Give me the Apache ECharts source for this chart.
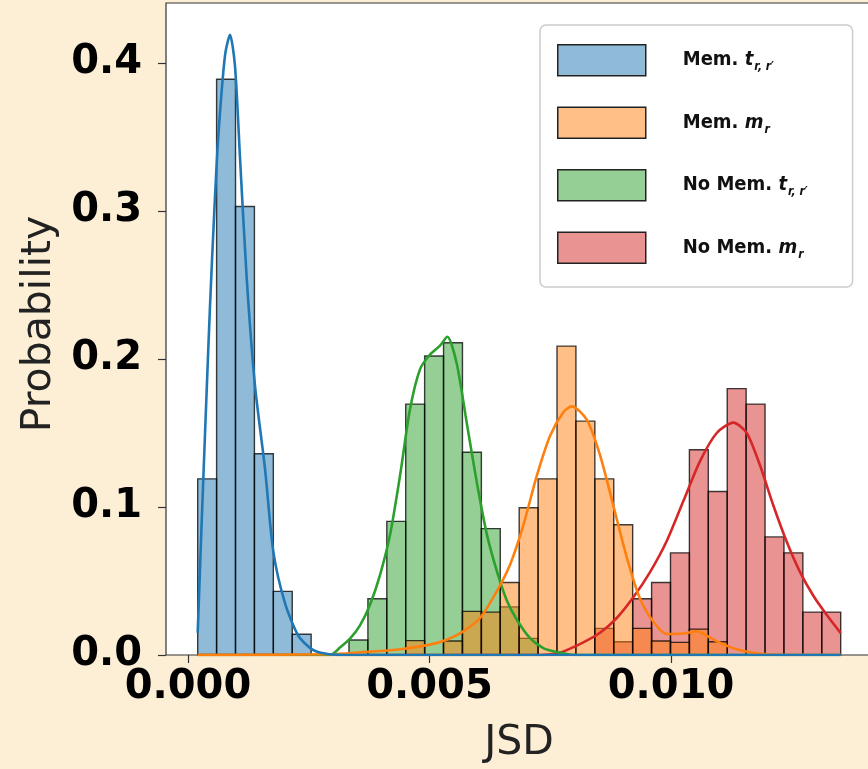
<!DOCTYPE html>
<html>
<head>
<meta charset="utf-8">
<title>JSD histogram</title>
<script src="https://cdn.jsdelivr.net/npm/echarts@6/dist/echarts.min.js"></script>
<style>
  html, body { margin: 0; padding: 0; background: #fdefd6; overflow: hidden; }
  #main { width: 880px; height: 769px; }
</style>
</head>
<body>
<div id="main"></div>
<script>
// common histogram bins (34 bins, JSD)
var binStart = 0.000201;
var binWidth = 0.0003915;
var binCount = 34;

// probability per bin, one array per group
var memT   = [0.119,0.389,0.303,0.136,0.043,0.014,0,0,0,0,0,0,0,0,0,0,0,0,0,0,0,0,0,0,0,0,0,0,0,0,0,0,0,0];
var memM   = [0,0,0,0,0,0,0,0,0,0,0,0.0097,0,0.0095,0.0295,0.029,0.049,0.0995,0.119,0.2087,0.158,0.119,0.088,0.018,0.0095,0.0085,0.0175,0.009,0,0,0,0,0,0];
var noMemT = [0,0,0,0,0,0,0,0,0.0101,0.038,0.0903,0.1695,0.202,0.211,0.137,0.0854,0.0325,0.0112,0,0,0,0,0,0,0,0,0,0,0,0,0,0,0,0];
var noMemM = [0,0,0,0,0,0,0,0,0,0,0,0,0,0,0,0,0,0,0,0,0,0.018,0.009,0.038,0.049,0.069,0.1387,0.1105,0.180,0.1695,0.0798,0.069,0.029,0.029];

// KDE curves: [JSD, density]
var kdeMemT = [[0.000201,0.015],[0.000284,0.09],[0.000365,0.16],[0.000455,0.235],[0.000545,0.3],[0.000627,0.35],
  [0.000766,0.405],[0.00087,0.419],[0.000973,0.398],[0.001077,0.336],[0.001215,0.255],[0.001387,0.182],[0.001594,0.126],
  [0.001766,0.07],[0.002008,0.035],[0.002284,0.013],[0.002561,0.004],[0.002836,0.001],[0.00325,0],[0.013513,0]];
var kdeMemM = [[0.000201,0],[0.00294,0.0005],[0.003629,0.002],[0.004321,0.0036],[0.00501,0.007],[0.005356,0.0103],
  [0.0057,0.016],[0.006046,0.025],[0.006391,0.043],[0.006667,0.061],[0.006942,0.0876],[0.00722,0.121],[0.007495,0.148],
  [0.00777,0.164],[0.007944,0.168],[0.008255,0.159],[0.00853,0.135],[0.008805,0.101],[0.009083,0.066],[0.009358,0.038],
  [0.009634,0.0225],[0.009911,0.0142],[0.010255,0.0145],[0.010532,0.016],[0.010876,0.0105],[0.01129,0.0045],
  [0.011704,0.0015],[0.012153,0.0002],[0.013513,0]];
var kdeNoMemT = [[0.000201,0],[0.00294,0],[0.003147,0.005],[0.003354,0.011],[0.003561,0.02],[0.003768,0.034],
  [0.003975,0.054],[0.004182,0.081],[0.004389,0.121],[0.004596,0.166],[0.004803,0.193],[0.00501,0.203],[0.005217,0.209],
  [0.005369,0.215],[0.005563,0.197],[0.00577,0.157],[0.005977,0.117],[0.006184,0.082],[0.006391,0.057],[0.006598,0.037],
  [0.006805,0.024],[0.007081,0.0114],[0.007356,0.0047],[0.007634,0.002],[0.008012,0],[0.013513,0]];
var kdeNoMemM = [[0.000201,0],[0.007288,0],[0.007634,0.001],[0.007841,0.0033],[0.008185,0.0085],[0.00853,0.015],
  [0.008876,0.025],[0.009219,0.039],[0.009565,0.056],[0.009911,0.077],[0.010255,0.104],[0.0106,0.131],[0.010946,0.15],
  [0.01129,0.157],[0.011567,0.15],[0.011843,0.128],[0.012118,0.101],[0.012395,0.0765],[0.012671,0.056],
  [0.012946,0.04],[0.013224,0.027],[0.013513,0.0148]];

var xTicks = [0, 0.005, 0.010];
var yTicks = [0, 0.1, 0.2, 0.3, 0.4];

var names = ['Mem. t', 'Mem. m', 'No Mem. t', 'No Mem. m'];
var colors = ['#1f77b4', '#ff7f0e', '#2ca02c', '#d62728'];
var fills = ['rgba(31,119,180,0.5)', 'rgba(255,127,14,0.5)', 'rgba(44,160,44,0.5)', 'rgba(214,39,40,0.5)'];
var hists = [memT, memM, noMemT, noMemM];
var kdes = [kdeMemT, kdeMemM, kdeNoMemT, kdeNoMemM];

function binData(h) {
  var out = [];
  for (var i = 0; i < binCount; i++) {
    if (h[i] > 0) out.push([binStart + i * binWidth, binStart + (i + 1) * binWidth, h[i]]);
  }
  return out;
}

function renderBar(fill) {
  return function (params, api) {
    var p0 = api.coord([api.value(0), api.value(2)]);
    var p1 = api.coord([api.value(1), 0]);
    return {
      type: 'rect',
      shape: { x: p0[0], y: p0[1], width: p1[0] - p0[0], height: p1[1] - p0[1] },
      style: { fill: fill, stroke: 'rgba(0,0,0,0.75)', lineWidth: 1.4 }
    };
  };
}

// seaborn draws the last group first
var series = [];
for (var k = 3; k >= 0; k--) {
  series.push({
    name: names[k],
    type: 'custom',
    renderItem: renderBar(fills[k]),
    encode: { x: [0, 1], y: 2 },
    itemStyle: { color: fills[k] },
    data: binData(hists[k])
  });
  series.push({
    name: names[k] + ' kde',
    type: 'line',
    data: kdes[k],
    smooth: 0.25,
    symbol: 'none',
    lineStyle: { color: colors[k], width: 2.6 }
  });
}

var legendText = {
  'Mem. t': '{b|Mem. }{i|t}{s|r, r\u2032}',
  'Mem. m': '{b|Mem. }{i|m}{s|r}',
  'No Mem. t': '{b|No Mem. }{i|t}{s|r, r\u2032}',
  'No Mem. m': '{b|No Mem. }{i|m}{s|r}'
};

var myChart = echarts.init(document.getElementById('main'));
myChart.setOption({
  animation: false,
  backgroundColor: '#fdefd6',
  grid: {
    left: 166, top: 3, right: 8, bottom: 111,
    show: true, backgroundColor: '#ffffff', borderColor: '#333', borderWidth: 1.2
  },
  legend: {
    orient: 'vertical',
    left: 540, top: 25,
    padding: [19, 45, 23, 17],
    itemWidth: 88, itemHeight: 31, itemGap: 30,
    backgroundColor: '#ffffff', borderColor: '#cccccc', borderWidth: 1.5, borderRadius: 6,
    data: names.map(function (n, i) {
      return { name: n, icon: 'rect', itemStyle: { color: fills[i], borderColor: '#222', borderWidth: 1.5 } };
    }),
    formatter: function (n) { return legendText[n]; },
    textStyle: {
      padding: [0, 0, 0, 32],
      rich: {
        b: { fontFamily: 'DejaVu Sans Condensed', fontWeight: 'bold', fontSize: 20, color: '#111' },
        i: { fontFamily: 'DejaVu Sans Condensed', fontWeight: 'bold', fontStyle: 'italic', fontSize: 20, color: '#111' },
        s: { fontFamily: 'DejaVu Sans Condensed', fontWeight: 'bold', fontStyle: 'italic', fontSize: 12, color: '#111', padding: [14, 0, 0, 1] }
      }
    }
  },
  xAxis: {
    type: 'value',
    min: -0.000455, max: 0.01416,
    name: 'JSD', nameLocation: 'middle', nameGap: 68,
    nameTextStyle: { fontFamily: 'DejaVu Sans', fontSize: 41, color: '#222' },
    axisLine: { show: false, onZero: false },
    splitLine: { show: false },
    axisTick: { show: true, length: 8, customValues: xTicks, lineStyle: { color: '#333', width: 1.2 } },
    axisLabel: {
      customValues: xTicks, margin: 13,
      fontFamily: 'DejaVu Sans', fontWeight: 'bold', fontSize: 40, color: '#000',
      formatter: function (v) { return v.toFixed(3); }
    }
  },
  yAxis: {
    type: 'value',
    min: 0, max: 0.4405,
    name: 'Probability', nameLocation: 'middle', nameGap: 100, nameRotate: 90,
    nameTextStyle: { fontFamily: 'DejaVu Sans', fontSize: 41, color: '#222', padding: [0, 0, 0, 10] },
    axisLine: { show: false, onZero: false },
    splitLine: { show: false },
    axisTick: { show: true, length: 8, customValues: yTicks, lineStyle: { color: '#333', width: 1.2 } },
    axisLabel: {
      customValues: yTicks, margin: 24,
      fontFamily: 'DejaVu Sans', fontWeight: 'bold', fontSize: 40, color: '#000',
      formatter: function (v) { return v.toFixed(1); }
    }
  },
  series: series
});
</script>
</body>
</html>
